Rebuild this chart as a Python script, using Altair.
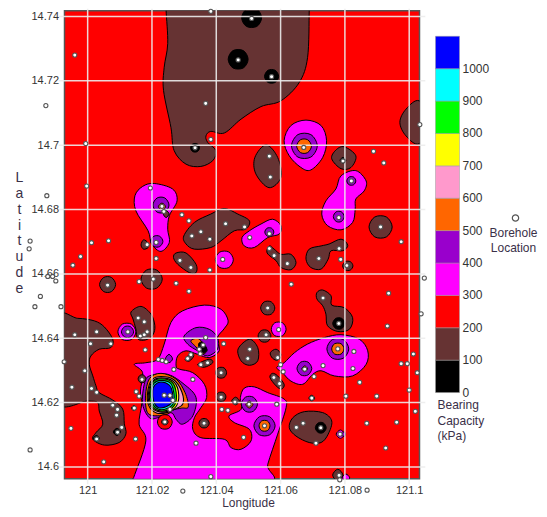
import altair as alt
import pandas as pd

# Contour outlines and boreholes, in thousandths of a degree
# east of 121 deg and north of 14.6 deg.
LON0, LAT0 = 121.0, 14.6
TICKS_LON = [121.0, 121.02, 121.04, 121.06, 121.08, 121.1]
TICKS_LAT = [14.6, 14.62, 14.64, 14.66, 14.68, 14.7, 14.72, 14.74]
DOM_LON = [120.9928, 121.1032]
DOM_LAT = [14.59636, 14.7418]

MAGENTA = [
 [(20.7,88.1),(26.4,86.4),(27.8,82.7),(25.4,78.1),(24.9,73.9),(25.4,69.8),(22.8,67),(19.9,69.3),(18.8,73.4),(15,79.6),(14.7,84.3),(17.1,87.2)],
 [(45.3,64.4),(43.9,66.8),(41.1,66.8),(39.7,64.4),(41.1,62),(43.9,62)],
 [(57.5,77),(60.1,75),(59.6,72.4),(56,71.3),(51.8,68.2),(48.7,68.7),(48,71.3),(50.3,73.4),(53.9,75.5)],
 [(83.4,92.1),(86.6,88.9),(86,85.8),(83.4,83.3),(83.2,80.1),(82.4,76),(78.8,73.7),(74.6,75),(72.8,78.6),(74.1,82.7),(77.2,86.4),(78.8,90.5)],
 [(67.9,107.8),(72.6,106.1),(74.3,101.4),(73.1,96.2),(69.4,92.3),(66.3,93.1),(62.7,96.7),(61.1,101.4),(63.2,106.1)],
 [(61.7,42.8),(60.6,44.8),(58.2,44.8),(57.1,42.8),(58.2,40.8),(60.6,40.8)],
 [(15,42),(13.6,44.4),(10.8,44.4),(9.4,42),(10.8,39.6),(13.6,39.6)],
 [(13.8,-5),(14.3,-3.3),(18.1,8.1),(16,13.3),(16.8,19.6),(16.4,23.6),(17.1,29.3),(14.5,31.9),(18.1,32.4),(21.8,33.5),(23.8,38.2),(25.9,44.9),(29.5,48.5),(36.3,50.3),(41.5,49),(43.7,45.4),(42.4,42.9),(40.4,40.2),(40.9,36.1),(37.8,34),(34.2,35),(30.6,36.1),(28,34.5),(27.5,31.4),(28.5,30.4),(32.7,29.3),(36.3,25.7),(37,21.6),(35.2,18.4),(33.2,15.3),(32.7,11.7),(35.2,9.1),(42.5,8.6),(44.6,6),(47.7,5.5),(50.8,8.1),(50.3,11.7),(45.6,13.8),(44,15.9),(47.7,17.9),(47.5,21.6),(48.7,24.5),(51.8,24.9),(56,23.1),(61.1,21.1),(61.7,18.4),(59.1,10.2),(56,0.8),(54.9,-5)],
 [(78.8,41.1),(84.5,39.7),(87.1,36.1),(86.6,31.9),(82.4,28.3),(76.7,28.3),(72.6,29.9),(70,28.8),(66.9,25.7),(63.2,26.7),(60.6,29.3),(58.8,30.9),(61.1,32.4),(64.3,35.5),(68.4,38.2),(73.6,40.2)],
 [(79.9,10.2),(78.6,11.5),(77.3,10.2),(78.6,8.9)],
 [(81.5,-3.4),(80.3,-2.2),(79.1,-3.4),(80.3,-4.6)],
]
PURPLE = [
 [(25.3,81.4),(24,83.6),(21.6,83.6),(20.3,81.4),(21.6,79.2),(24,79.2)],
 [(23.4,70.1),(22.4,71.7),(20.6,71.7),(19.6,70.1),(20.6,68.5),(22.4,68.5)],
 [(57.9,73),(57.2,74.2),(55.8,74.2),(55.1,73),(55.8,71.8),(57.2,71.8)],
 [(83.4,88.9),(82.7,90.1),(81.3,90.1),(80.6,88.9),(81.3,87.7),(82.7,87.7)],
 [(79.8,77.8),(78.9,79.3),(77.3,79.3),(76.4,77.8),(77.3,76.3),(78.9,76.3)],
 [(71.4,99.8),(69.4,103.3),(65.4,103.3),(63.4,99.8),(65.4,96.3),(69.4,96.3)],
 [(14.3,42),(13.3,43.6),(11.5,43.6),(10.5,42),(11.5,40.4),(13.3,40.4)],
 [(30,40.7),(33.7,43.3),(37.8,42.8),(40.4,40.2),(40.4,36.6),(37.3,34.5),(34.2,36.1),(31.1,38.2)],
 [(19.2,28.3),(24.9,28.8),(30,25.7),(33.7,21.6),(32.7,15.9),(29.5,13.3),(27.5,14.8),(25.9,16.9),(21.8,15.3),(19.2,15.3),(17.1,19.5),(17.6,25.7)],
 [(26.4,33.6),(25.3,35),(24.2,33.6),(25.3,32.4)],
 [(52.8,19.5),(51.5,21.7),(49.1,21.7),(47.8,19.5),(49.1,17.3),(51.5,17.3)],
 [(58.3,12.8),(56.6,15.6),(53.4,15.6),(51.7,12.8),(53.4,10),(56.6,10)],
 [(81.2,36.7),(79.5,39.6),(76.1,39.6),(74.4,36.7),(76.1,33.8),(79.5,33.8)],
 [(69.7,30.6),(68.5,32.6),(66.3,32.6),(65.1,30.6),(66.3,28.6),(68.5,28.6)],
 [(80.2,10.2),(79.7,11),(79.2,10.2),(79.7,9.4)],
]
ORANGE = [
 [(24.2,80.9),(23.1,82),(22,80.9),(23.1,79.8)],
 [(69.6,99.7),(68.4,101.7),(66.2,101.7),(65,99.7),(66.2,97.7),(68.4,97.7)],
 [(32.1,39.2),(34.6,39.8),(37.1,36.4),(35.5,35.1),(33.7,37.3)],
 [(22.8,29.1),(27.5,27.3),(30.3,23.1),(31.3,18.7),(29.2,18.3),(26.5,17.7),(25,16.5),(21.6,15.9),(18.6,16.9),(18,22.1),(19.2,27.4)],
 [(51.4,19.4),(50.3,20.5),(49.2,19.4),(50.3,18.3)],
 [(56.7,12.8),(55.9,14.3),(54.1,14.3),(53.3,12.8),(54.1,11.3),(55.9,11.3)],
 [(79.7,36.7),(78.8,38.3),(76.8,38.3),(75.9,36.7),(76.8,35.1),(78.8,35.1)],
 [(68.4,30.5),(67.5,31.4),(66.6,30.5),(67.5,29.6)],
]
PINK = [[(22.8,28.1),(26.8,27.1),(29.3,23.3),(29.6,19.6),(27.2,18),(24.7,16.9),(21.4,16.8),(18.9,19.3),(18.7,23.6),(20,27.1)]]
YELLOW = [[(22.8,27.7),(26.5,26.7),(28.2,23.6),(27.8,19.3),(25.3,17.4),(21.6,17.3),(19.2,19.6),(19,23.6),(20.2,26.7)]]
GREEN = [[(22.8,27.4),(26.2,26.4),(27.5,23.3),(27.2,19.6),(25,17.7),(21.7,17.6),(19.5,19.9),(19.3,23.6),(20.3,26.4)]]
CYAN = [[(22.8,26.9),(25.8,26),(26.8,23),(26.7,19.9),(24.7,18.2),(21.9,18),(20,20.2),(19.7,23.6),(20.6,26)]]
BLUE = [[(22.8,26.4),(25.3,25.5),(26.4,23),(26.2,20.2),(24.4,18.7),(21.9,18.5),(20.5,20.5),(20.2,23.6),(20.9,25.5)]]
RED = [
 [(26.3,14),(25.2,16),(22.8,16),(21.7,14),(22.8,12),(25.2,12)],
]
BROWN = [
 [(24.4,144.9),(24.4,141.8),(24.9,131.6),(23.8,124.2),(23.6,117),(25.9,105.5),(26.9,98.3),(30.6,94.1),(35.2,93.4),(38.9,95.2),(39.9,98.3),(37.3,100.9),(36.8,102.9),(38.3,104.3),(42.5,103.8),(47.7,108.1),(53.9,112),(60.1,113.8),(65.8,119.5),(68.4,127.3),(68.9,141.8),(68.9,144.9),(47.7,148.7)],
 [(106.8,107.6),(103.1,113.8),(99,111.2),(97.1,107.1),(99,102.9),(103.1,100.5)],
 [(55.5,100.1),(59.1,96.2),(60.1,90),(56.4,86.8),(52.3,91.1),(52,96.2)],
 [(79.8,99.5),(83.4,96.7),(81.9,93.1),(78.8,92.7),(75.9,95.8),(77.2,98.5)],
 [(29.9,71.8),(33.2,76),(38.3,78.6),(42.5,80.3),(46.7,78.6),(50.3,76.5),(49.2,73.9),(45.6,73.4),(41.5,70.3),(38.3,68.2),(33.2,67.7),(30.6,69.3)],
 [(17.4,70.6),(18.8,69.6),(18.8,68.2),(17.4,67.7),(16.6,69)],
 [(27.5,66.5),(30.6,66.5),(33.7,63),(33.7,60.4),(31.6,60.4),(28,63),(26.7,65.1)],
 [(23.2,58.4),(21.5,61.2),(18.3,61.2),(16.6,58.4),(18.3,55.6),(21.5,55.6)],
 [(8.7,56.7),(7.4,58.9),(5,58.9),(3.7,56.7),(5,54.5),(7.4,54.5)],
 [(-9.9,20.5),(-9.9,46),(-3.1,46.2),(2.1,45.4),(5.2,43.5),(7.8,39.7),(7.2,37.1),(3.6,36.6),(1,34.5),(0.5,31.9),(1.6,28.3),(2.6,25.2),(3.6,23.1),(7.8,20.8),(10.9,18),(11.4,13.4),(11.9,10.3),(9.8,7.6),(5.2,6.8),(1.6,8.6),(2.6,10.7),(4.7,13.3),(3.6,17.4),(3.1,20),(0,20.5)],
 [(16.6,49.9),(19.7,47.5),(20.9,43.9),(20.3,41.1),(18.1,39.5),(15.6,39.8),(15,42.9),(14.1,46),(13.5,48.2)],
 [(43.2,29.3),(42.4,30.8),(40.6,30.8),(39.8,29.3),(40.6,27.8),(42.4,27.8)],
 [(43,21.8),(42.3,23.1),(40.7,23.1),(40,21.8),(40.7,20.5),(42.3,20.5)],
 [(37.8,13.6),(37,14.9),(35.4,14.9),(34.6,13.6),(35.4,12.3),(37,12.3)],
 [(50.3,39.7),(52.9,37.1),(52.9,33),(50.3,31.6),(47.7,33),(46.8,36.7)],
 [(57,40.7),(56,42.4),(54,42.4),(53,40.7),(54,39),(56,39)],
 [(56.8,35.5),(58.6,36.6),(60.1,35),(59.1,33.2),(57.5,33.8)],
 [(57.5,29.1),(59.1,28.3),(61.1,25.7),(60.3,24.2),(58.6,25.2),(56.7,27.8)],
 [(67.4,17.2),(73.1,16.9),(75.9,14.3),(74.8,10.2),(72.6,7.6),(68.9,7.6),(64.8,9.6),(62.7,12.2),(63.8,15.3)],
 [(58.2,49.4),(57.1,51.3),(54.9,51.3),(53.8,49.4),(54.9,47.5),(57.1,47.5)],
 [(73.1,55),(75.7,53.2),(75.9,50.3),(79.8,49.5),(82.4,46.4),(81.4,42.8),(77.8,42.1),(74.6,43.9),(74.1,47.5),(73.1,50.1),(71.3,52.2),(71.3,54.2)],
 [(94.7,74.6),(92.9,77.7),(89.3,77.7),(87.5,74.6),(89.3,71.5),(92.9,71.5)],
 [(78.8,70.8),(80.9,68.9),(79.3,67.2),(75.7,67.2),(74.8,64.6),(72.6,61.5),(69.4,62),(67.9,64.6),(68.9,67.7),(72.6,68.7),(75.1,69.3)],
 [(82.5,62.5),(81.7,63.8),(80.1,63.8),(79.3,62.5),(80.1,61.2),(81.7,61.2)],
 [(56.5,68.7),(58,67.7),(60.1,66.1),(63.2,66.1),(64.8,63.5),(63.2,61.3),(60.1,62),(58.6,64.1),(55.8,66.5)],
 [(25,14),(24.5,14.8),(23.5,14.8),(23,14),(23.5,13.2),(24.5,13.2)],
 [(18.1,27.4),(17.5,28.5),(16.3,28.5),(15.7,27.4),(16.3,26.3),(17.5,26.3)],
 [(79.4,-2.5),(77.8,-0.7),(76.2,-2.5),(77.8,-4.5)],
 [(25.3,78.7),(24.4,79.6),(23.5,78.7),(24.4,77.5)],
 [(47.2,20.5),(46,21.7),(44.8,20.5),(46,19.3)],
 [(34.2,31.9),(37.8,33.5),(38.9,32.4),(36.3,31)],
 [(30.3,33.5),(32.3,35.5),(33,34.5),(31.6,32.9)],
]
BLACK = [
 [(49.9,126.7),(48.4,129.4),(45.2,129.4),(43.7,126.7),(45.2,124),(48.4,124)],
 [(54.1,139.6),(52.6,142.3),(49.4,142.3),(47.9,139.6),(49.4,136.9),(52.6,136.9)],
 [(59.4,121.4),(58.3,123.3),(56.1,123.3),(55,121.4),(56.1,119.5),(58.3,119.5)],
 [(34.8,99.2),(34.1,100.4),(32.7,100.4),(32,99.2),(32.7,98),(34.1,98)],
 [(80.3,95.3),(79.4,96.2),(78.5,95.3),(79.4,94.4)],
 [(74.2,12.2),(73.3,13.7),(71.7,13.7),(70.8,12.2),(71.7,10.7),(73.3,10.7)],
 [(80,44.6),(79,46.2),(77.2,46.2),(76.2,44.6),(77.2,43),(79,43)],
 [(34.5,38.2),(35.8,38.7),(37.1,36.3),(35.2,35.4)],
 [(10.2,10.9),(9.1,12),(8,10.9),(9.1,9.8)],
 [(3.6,8.9),(2.7,9.8),(1.8,8.9),(2.7,8)],
 [(15.2,18.3),(14.4,19.1),(13.6,18.3),(14.4,17.5)],
 [(70.6,21.4),(69.7,22.3),(68.8,21.4),(69.7,20.5)],
 [(38.7,70.8),(38,71.5),(37.3,70.8),(38,70.1)],
]
BOREHOLES = [
 (38.3,141.6),(-4,128),(46.8,126.5),(36.7,113),(38.3,101.8),(-0.6,100.5),(33.4,99.2),(51,139.4),(57.2,121.3),(67.2,99.3),
 (103.3,106.4),(56.5,96.6),(88.9,98.1),(92.1,94.5),(79.4,95.1),(-0.3,87.3),(19.5,86.7),(23.1,81),(23.7,79.4),(29.3,78.4),
 (31.5,76.5),(42.9,75.6),(48.8,74.6),(32.4,71.8),(35.2,73.1),(38,70.8),(50.4,71.3),(1.2,69.7),(6.5,70.3),(18.5,69.1),
 (21.3,69.8),(-2.2,65.4),(-4.6,62.7),(21.3,64.8),(28.7,64.2),(32.1,62),(42,64.5),(38,61.2),(20.4,58.4),(16,57.6),
 (6.2,56.5),(27.5,57.1),(31.5,54.6),(-8.3,49.8),(15.7,46.3),(17.6,45.1),(12.5,42),(2.8,42),(-4,41.1),(18.5,42),
 (16.4,40.7),(17.6,41.1),(56.8,90.1),(82,88.9),(78.1,77.5),(91.1,74.6),(56.5,72.5),(97.5,70),(56.5,67.9),(78.2,67.9),
 (58,65.7),(71.9,64.8),(78.7,64.5),(62.1,63.2),(80.6,62.6),(63.3,56.8),(93.6,54),(73.2,52.5),(56,49.4),(104.7,58.7),
 (103.7,47.6),(78.1,44.6),(93.2,43.8),(59.4,42.7),(55.5,41.1),(0.9,38.3),(7.2,38.3),(17.9,36.4),(36.7,40.2),(42.3,38.3),
 (35.9,37.9),(34.7,36.6),(35,35.2),(32.1,34.9),(31.1,33.7),(-7.3,32.7),(22,33.4),(23.2,33.1),(24.4,32.7),(37.3,32.4),
 (35.2,31.8),(49.8,33.7),(-0.9,29.9),(26.8,30.3),(41.5,29.3),(16.9,27.2),(32.7,27.2),(-4.9,24.8),(1.2,24.4),(2.8,23.2),
 (15.1,23.4),(16,22),(23.8,22.3),(25.6,22.2),(26.5,20.7),(41.5,21.7),(45.8,20.2),(50.2,19.5),(7.8,19.2),(9.3,17.9),
 (9,16.1),(14.5,18.3),(25.6,17.9),(41.7,17.9),(43.6,17.6),(24,14),(36.2,13.6),(-5.2,12),(10.6,12.3),(9.3,10.8),
 (2.8,8.7),(14.9,8.7),(48.5,9.2),(33.7,7.4),(5,1.6),(38.3,-3),(50.4,36.6),(77.8,36.7),(82.8,35.9),(101.3,35.1),
 (59.1,34),(60,31.8),(60.8,29.6),(67.5,30.4),(73.2,31.5),(82.5,30.6),(97.5,32.1),(99.4,32.1),(102.5,29.3),(70.4,28.1),
 (57.9,27.8),(59.7,25.9),(84.6,26.3),(100,23.9),(69.7,21.4),(80.3,22),(89.9,22),(58.8,19.5),(101.9,17.3),(67,13.6),
 (64.9,12.3),(72.5,12.2),(86.8,13.6),(96.1,13.9),(55,12.8),(78.5,10.2),(71,7.4),(92.7,5.9),(78.2,-2.6),(78.4,-4),
 (-13,112.3),(-12.7,84.3),(-17.9,70.2),(-18.2,67.8),(-12.4,59.2),(-10.9,59.2),(-9.9,57.8),(-14.7,53),(-16.4,49.8),(-17.9,5.3),
 (86.9,-7.2),(29.6,-7.5),
]

LEVEL_STARTS = [0, 100, 200, 300, 400, 500, 600, 700, 800, 900, 1000]
LEVEL_ENDS = [100, 200, 300, 400, 500, 600, 700, 800, 900, 1000, 1100]
LEVEL_COLORS = ["#000000", "#663333", "#ff0000", "#ff00ff", "#9900cc", "#ff6600",
                "#ff99cc", "#ffff00", "#00ff00", "#00ffff", "#0000ff"]
LEVEL_LABELS = ["0", "100", "200", "300", "400", "500", "600", "700", "800", "900", "1000"]

FONT = "Liberation Sans"
TEXT = "#3a3048"

x_enc = alt.X("lon:Q", scale=alt.Scale(domain=DOM_LON, nice=False, zero=False),
              axis=alt.Axis(values=TICKS_LON, format=".2~f", grid=False, ticks=False, domain=False,
                            labelPadding=6, labelFontSize=11, labelFont=FONT, labelColor="#333333",
                            title="Longitude", titleFont=FONT, titleFontSize=12, titleFontWeight="normal",
                            titleColor=TEXT, titlePadding=2, titleX=183.5))
y_enc = alt.Y("lat:Q", scale=alt.Scale(domain=DOM_LAT, nice=False, zero=False),
              axis=alt.Axis(values=TICKS_LAT, format=".2~f", grid=False, ticks=False, domain=False,
                            labelPadding=6, labelFontSize=11, labelFont=FONT, labelColor="#333333",
                            title=list("Latitude"), titleAngle=0, titleAlign="center", titleBaseline="middle",
                            titleX=-45.5, titleY=167, titleLineHeight=15.8, titleFont=FONT, titleFontSize=14,
                            titleFontWeight="normal", titleColor=TEXT))


def frame(polys):
    rows = []
    for pid, poly in enumerate(polys):
        for i, (a, b) in enumerate(poly):
            rows.append({"id": pid, "i": i, "lon": LON0 + a / 1000, "lat": LAT0 + b / 1000})
    return pd.DataFrame(rows)


def contour(polys, color, width=1.0):
    return alt.Chart(frame(polys)).mark_line(
        fill=color, stroke="#000000", strokeWidth=width, interpolate="cardinal-closed", clip=True
    ).encode(x=x_enc, y=y_enc, detail="id:N", order=alt.Order("i:Q"))


layers = [
    contour(MAGENTA, LEVEL_COLORS[3]),
    contour(PURPLE, LEVEL_COLORS[4]),
    contour(ORANGE, LEVEL_COLORS[5]),
    contour(PINK, LEVEL_COLORS[6], 1.1),
    contour(YELLOW, LEVEL_COLORS[7], 1.1),
    contour(GREEN, LEVEL_COLORS[8], 1.1),
    contour(CYAN, LEVEL_COLORS[9], 1.1),
    contour(BLUE, LEVEL_COLORS[10], 1.1),
    contour(RED, LEVEL_COLORS[2]),
    contour(BROWN, LEVEL_COLORS[1]),
    contour(BLACK, LEVEL_COLORS[0]),
]

# Grid lines, running a little past the frame
grid_lon = pd.DataFrame({"lon": TICKS_LON, "lat": [DOM_LAT[0] - 0.0017] * 6, "lat2": [DOM_LAT[1] + 0.0006] * 6})
grid_lat = pd.DataFrame({"lat": TICKS_LAT, "lon": [DOM_LON[0] - 0.0018] * 8, "lon2": [DOM_LON[1] + 0.0018] * 8})
rule_v = alt.Chart(grid_lon).mark_rule(color="#ececec", strokeWidth=1.5, opacity=0.9).encode(x=x_enc, y=y_enc, y2="lat2:Q")
rule_h = alt.Chart(grid_lat).mark_rule(color="#ececec", strokeWidth=1.5, opacity=0.9).encode(x=x_enc, x2="lon2:Q", y=y_enc)

holes = pd.DataFrame({"lon": [LON0 + a / 1000 for a, b in BOREHOLES], "lat": [LAT0 + b / 1000 for a, b in BOREHOLES]})
points = alt.Chart(holes).mark_point(filled=True, fill="#ffffff", stroke="#555555", strokeWidth=1.1,
                                     size=17, opacity=1, clip=False).encode(x=x_enc, y=y_enc)

main = alt.layer(*layers, rule_v, rule_h, points).properties(
    width=355, height=468,
    view=alt.ViewConfig(fill="#ff0000", stroke="#555555", strokeWidth=1.5),
)

# Colour bar and captions
bar_x = alt.Scale(domain=[0, 103], nice=False, zero=False)
bar_y = alt.Scale(domain=[-266, 1179], nice=False, zero=False)
bar_df = pd.DataFrame({"a": LEVEL_STARTS, "b": LEVEL_ENDS, "c": LEVEL_COLORS, "x0": [0] * 11, "x1": [24] * 11})
bar = alt.Chart(bar_df).mark_rect(stroke="#999999", strokeWidth=0.5).encode(
    x=alt.X("x0:Q", scale=bar_x, axis=None), x2="x1:Q",
    y=alt.Y("a:Q", scale=bar_y, axis=None), y2="b:Q",
    color=alt.Color("c:N", scale=None, legend=None),
)
lab_df = pd.DataFrame({"t": LEVEL_LABELS, "v": LEVEL_STARTS, "x": [27] * 11})
labs = alt.Chart(lab_df).mark_text(align="left", baseline="middle", font=FONT, fontSize=12, color="#333333").encode(
    x=alt.X("x:Q", scale=bar_x, axis=None), y=alt.Y("v:Q", scale=bar_y, axis=None), text="t:N")
cap_df = pd.DataFrame({"t": ["Bearing", "Capacity", "(kPa)"], "v": [-40, -87, -133], "x": [2, 2, 2]})
caps = alt.Chart(cap_df).mark_text(align="left", baseline="middle", font=FONT, fontSize=12, color=TEXT).encode(
    x=alt.X("x:Q", scale=bar_x, axis=None), y=alt.Y("v:Q", scale=bar_y, axis=None), text="t:N")
bh_df = pd.DataFrame({"t": ["Borehole", "Location"], "v": [493, 446], "x": [78, 78]})
bh_txt = alt.Chart(bh_df).mark_text(align="center", baseline="middle", font=FONT, fontSize=12, color=TEXT).encode(
    x=alt.X("x:Q", scale=bar_x, axis=None), y=alt.Y("v:Q", scale=bar_y, axis=None), text="t:N")
bh_pt = alt.Chart(pd.DataFrame({"x": [80], "v": [539]})).mark_point(
    filled=True, fill="#ffffff", stroke="#555555", strokeWidth=1.2, size=40, opacity=1).encode(
    x=alt.X("x:Q", scale=bar_x, axis=None), y=alt.Y("v:Q", scale=bar_y, axis=None))
legend = alt.layer(bar, labs, caps, bh_txt, bh_pt).properties(
    width=103, height=468, view=alt.ViewConfig(stroke=None, fill=None))

chart = alt.hconcat(main, legend, spacing=16).properties(
    bounds="flush", padding={"left": 5.5, "top": -2.3, "right": 0, "bottom": 0}
).configure_view(strokeWidth=1.5)

chart.save("out.html", embed_options={"renderer": "svg", "actions": False})
